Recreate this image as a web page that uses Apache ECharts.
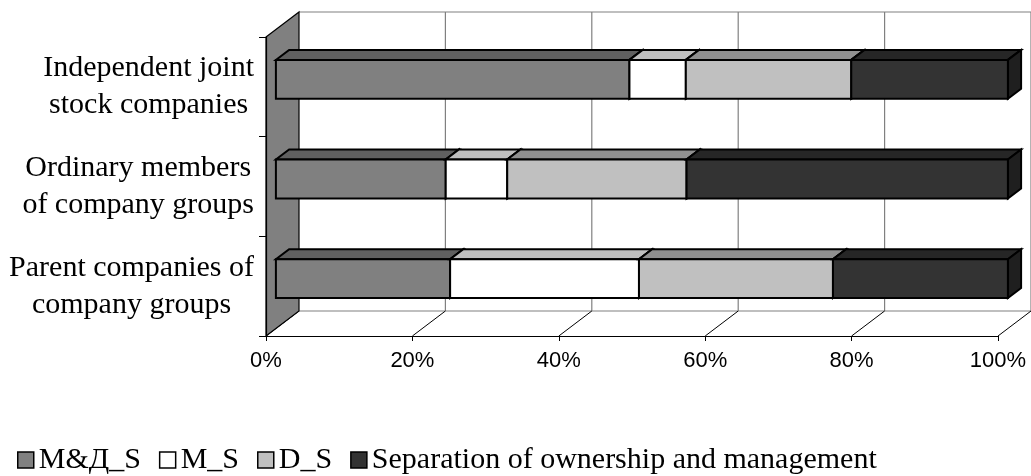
<!DOCTYPE html>
<html>
<head>
<meta charset="utf-8">
<script src="https://cdn.jsdelivr.net/npm/echarts@6/dist/echarts.min.js"></script>
<style>
  html, body { margin: 0; padding: 0; background: #fff; }
  #chart { width: 1031px; height: 476px; }
</style>
</head>
<body>
<div id="chart"></div>
<script>
// Categories, bottom to top on the category axis
const categories = [
  'Parent companies of\ncompany groups',
  'Ordinary members\nof company groups',
  'Independent joint\nstock companies'
];

// Shares (%) per category, same order as categories
const mdS = [23.8, 23.2, 48.3];
const mS = [25.8, 8.4, 7.7];
const dS = [26.5, 24.5, 22.6];
const separation = [23.9, 43.9, 21.4];

const seriesNames = ['M&Д_S', 'M_S', 'D_S', 'Separation of ownership and management'];
const seriesValues = [mdS, mS, dS, separation];
const seriesColors = ['#808080', '#ffffff', '#c0c0c0', '#333333'];

// Value axis ticks
const xTicks = [0, 20, 40, 60, 80, 100];

// Oblique projection of the depth axis (pixels for full depth)
const DEPTH = [33, -25];
const BAR_FRONT = 0.3;   // depth fraction of bar front face
const BAR_BACK = 0.7;    // depth fraction of bar back face
const BAR_RATIO = 0.39;  // bar thickness relative to the category band

function shade(hex, k) {
  const n = parseInt(hex.slice(1), 16);
  const r = Math.round(((n >> 16) & 255) * k);
  const g = Math.round(((n >> 8) & 255) * k);
  const b = Math.round((n & 255) * k);
  return 'rgb(' + r + ',' + g + ',' + b + ')';
}

// Stacked start/end for every segment
const cumulative = categories.map(() => 0);
const barSeries = seriesValues.map((vals, si) => {
  const data = vals.map((v, ci) => {
    const s = cumulative[ci];
    cumulative[ci] += v;
    return [s, s + v, ci];
  });
  const color = seriesColors[si];
  return {
    type: 'custom',
    name: seriesNames[si],
    data: data,
    encode: { x: [0, 1], y: 2 },
    itemStyle: { color: color },
    z: 3,
    renderItem: function (params, api) {
      const start = api.value(0), end = api.value(1), cat = api.value(2);
      const a = api.coord([start, cat]);
      const b = api.coord([end, cat]);
      const band = api.size([0, 1])[1];
      const h = band * BAR_RATIO;
      const fx = DEPTH[0] * BAR_FRONT, fy = DEPTH[1] * BAR_FRONT;
      const dx = DEPTH[0] * (BAR_BACK - BAR_FRONT), dy = DEPTH[1] * (BAR_BACK - BAR_FRONT);
      const xl = a[0] + fx, xr = b[0] + fx;
      const yt = a[1] + fy - h / 2, yb = a[1] + fy + h / 2;
      const stroke = { stroke: '#000', lineWidth: 2, lineJoin: 'miter' };
      return {
        type: 'group',
        children: [
          {
            type: 'polygon',
            shape: { points: [[xl, yt], [xr, yt], [xr + dx, yt + dy], [xl + dx, yt + dy]] },
            style: Object.assign({ fill: shade(color, 0.75) }, stroke)
          },
          {
            type: 'polygon',
            shape: { points: [[xr, yt], [xr + dx, yt + dy], [xr + dx, yb + dy], [xr, yb]] },
            style: Object.assign({ fill: shade(color, 0.6) }, stroke)
          },
          {
            type: 'rect',
            shape: { x: xl, y: yt, width: xr - xl, height: yb - yt },
            style: Object.assign({ fill: color }, stroke)
          }
        ]
      };
    }
  };
});

// Walls, floor and grid lines of the 3D frame
const frameSeries = {
  type: 'custom',
  name: 'frame',
  data: [[0, 0]],
  encode: { x: 0, y: 1 },
  z: 1,
  silent: true,
  renderItem: function (params, api) {
    const cs = params.coordSys;
    const x0 = cs.x, x1 = cs.x + cs.width, y0 = cs.y, y1 = cs.y + cs.height;
    const dx = DEPTH[0], dy = DEPTH[1];
    const children = [];
    // floor
    children.push({
      type: 'polygon',
      shape: { points: [[x0, y1], [x1, y1], [x1 + dx, y1 + dy], [x0 + dx, y1 + dy]] },
      style: { fill: '#fff', stroke: null }
    });
    // back wall top edge and floor back edge
    children.push({
      type: 'line',
      shape: { x1: x0 + dx, y1: y0 + dy, x2: x1 + dx, y2: y0 + dy },
      style: { stroke: '#808080', lineWidth: 1.2 }
    });
    children.push({
      type: 'line',
      shape: { x1: x0 + dx, y1: y1 + dy, x2: x1 + dx, y2: y1 + dy },
      style: { stroke: '#808080', lineWidth: 1.2 }
    });
    xTicks.forEach(function (t) {
      const px = api.coord([t, 0])[0];
      if (t !== xTicks[0]) {
        children.push({
          type: 'line',
          shape: { x1: px + dx, y1: y0 + dy, x2: px + dx, y2: y1 + dy },
          style: { stroke: '#808080', lineWidth: 1.2 }
        });
      }
      children.push({
        type: 'line',
        shape: { x1: px, y1: y1, x2: px + dx, y2: y1 + dy },
        style: { stroke: '#000', lineWidth: 1 }
      });
    });
    // left side wall
    children.push({
      type: 'polygon',
      shape: { points: [[x0, y0], [x0 + dx, y0 + dy], [x0 + dx, y1 + dy], [x0, y1]] },
      style: { fill: '#808080', stroke: '#000', lineWidth: 1.2 }
    });
    return { type: 'group', children: children };
  }
};

const chart = echarts.init(document.getElementById('chart'), null, { renderer: 'canvas' });
chart.setOption({
  animation: false,
  backgroundColor: '#fff',
  grid: { left: 266, right: 33, top: 37, bottom: 140, containLabel: false },
  xAxis: {
    type: 'value',
    min: 0,
    max: 100,
    interval: 20,
    z: 5,
    splitLine: { show: false },
    axisLine: { show: true, lineStyle: { color: '#000', width: 1.2 } },
    axisTick: { show: true, length: 5, lineStyle: { color: '#000', width: 1 } },
    axisLabel: {
      formatter: function (v) { return v + '%'; },
      fontFamily: 'Liberation Sans',
      fontSize: 22,
      color: '#000',
      margin: 14
    }
  },
  yAxis: {
    type: 'category',
    data: categories,
    z: 5,
    axisLine: { show: true, lineStyle: { color: '#000', width: 1.2 } },
    axisTick: { show: true, length: 7, alignWithLabel: false, interval: 0, lineStyle: { color: '#000', width: 1 } },
    splitLine: { show: false },
    axisLabel: {
      interval: 0,
      margin: 12,
      align: 'right',
      formatter: function (v) {
        return v.split('\n').map(function (s) { return '{c|' + s + '}'; }).join('\n');
      },
      rich: {
        c: {
          align: 'center',
          fontFamily: 'Liberation Serif',
          fontSize: 30,
          lineHeight: 37,
          color: '#000'
        }
      }
    }
  },
  legend: {
    data: seriesNames,
    left: 12,
    top: 440,
    icon: 'rect',
    itemWidth: 16,
    itemHeight: 16,
    itemGap: 18,
    itemStyle: { borderColor: '#000', borderWidth: 1.5 },
    textStyle: { fontFamily: 'Liberation Serif', fontSize: 30, color: '#000' }
  },
  series: [frameSeries].concat(barSeries)
});
</script>
</body>
</html>
